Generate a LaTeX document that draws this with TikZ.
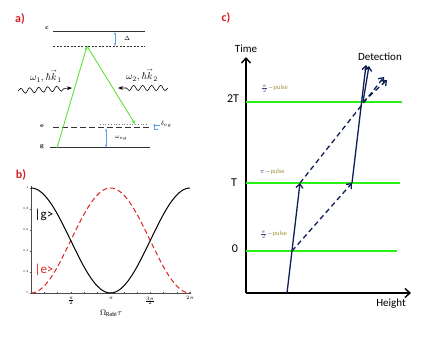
\documentclass[tikz,border=0pt]{standalone}
\usepackage{amsmath}
\usepackage{fontspec}
\setsansfont{Carlito}
\usepackage{tikz}
\usetikzlibrary{arrows.meta, positioning, calc, decorations.pathmorphing}
\definecolor{panelred}{RGB}{215,30,35}
\definecolor{lasergreen}{RGB}{80,225,40}
\definecolor{pulsegreen}{RGB}{40,240,20}
\definecolor{levelblue}{RGB}{90,160,230}
\definecolor{pathnavy}{RGB}{15,30,85}
\definecolor{curvered}{RGB}{220,35,35}
\definecolor{pulsetxt}{RGB}{165,145,60}
\definecolor{pitxt}{RGB}{90,60,120}
\newcommand{\hb}{\text{\itshape ħ}}
\newcommand{\kvec}{\overset{\scriptscriptstyle\rightarrow}{k}}
\tikzset{
  panel/.style={font=\sffamily\bfseries\fontsize{12}{14}\selectfont, text=panelred},
  level/.style={line width=1pt, color=black!80},
  lvllabel/.style={font=\bfseries\fontsize{6}{7}\selectfont},
  split/.style={{Stealth[length=3pt]}-{Stealth[length=3pt]}, color=levelblue, line width=0.7pt},
  beam/.style={-{Stealth[length=4pt]}, color=lasergreen, line width=0.8pt},
  photon/.style={-{Stealth[length=5pt]}, decorate,
    decoration={snake, amplitude=2.6pt, segment length=9pt, post length=5pt}, line width=0.6pt},
  photonlbl/.style={font=\fontsize{10}{12}\selectfont, inner sep=0.5pt},
  pulse/.style={color=pulsegreen, line width=1.3pt},
  traj/.style={-{Straight Barb[length=4pt, width=7pt]}, color=pathnavy, line width=1.3pt},
  dtraj/.style={traj, dash pattern=on 5pt off 3.5pt},
  axis/.style={-{Straight Barb[length=5pt, width=9pt]}, line width=1.4pt},
  ctext/.style={font=\sffamily\fontsize{11}{13}\selectfont},
  pulselbl/.style={font=\fontsize{6.5}{7}\selectfont, text=pitxt, inner sep=0pt}
}

\begin{document}
\begin{tikzpicture}[x=1pt, y=-1pt]
  \useasboundingbox (0,0) rectangle (436,339);

  % a) Raman transition
  \node[panel] (pa) at (20,19) {a)};
  \coordinate (cL) at (53,32);  \coordinate (cR) at (145,32);
  \coordinate (vL) at (53,46);  \coordinate (vR) at (145,46);
  \coordinate (eL) at (53,128); \coordinate (eR) at (150,128);
  \coordinate (gL) at (50,148); \coordinate (gR) at (150,148);
  \draw[level] (cL) -- (cR);
  \draw[black!80, dashed, dash pattern=on 2pt off 1.5pt, line width=0.7pt] (vL) -- (vR);
  \draw[level, dash pattern=on 6pt off 3pt] (eL) -- (eR);
  \draw[black!50, dotted, line width=0.7pt] (100,124) -- (148,124);
  \draw[level] (gL) -- (gR);
  \node[lvllabel] (lc) at (47,28) {c};
  \node[lvllabel] (le) at (42,126) {e};
  \node[lvllabel] (lg) at (42,147) {g};
  % detunings
  \draw[split] (115,32) -- (115,46);
  \node[font=\fontsize{6}{7}\selectfont] (ldelta) at (127,38) {$\Delta$};
  \draw[split] (106,128.5) -- (106,147.5);
  \node[font=\fontsize{6}{7}\selectfont] (lweg) at (121,138) {$\omega_{eg}$};
  \draw[levelblue, line width=0.7pt, -{Stealth[length=2.5pt]}] (160,125) -- (153,125);
  \draw[levelblue, line width=0.7pt] (154.5,125) -- (154.5,129.5) -- (158,129.5);
  \node[font=\fontsize{6}{7}\selectfont] (ldeg) at (166,124) {$\delta_{eg}$};
  % laser beams
  \coordinate (gs) at (57,148);
  \coordinate (apex) at (87,46);
  \coordinate (es) at (135,124);
  \draw[beam] (gs) -- (apex);
  \draw[beam] (apex) -- (es);
  \draw[photon] (18,91) -- (72,88);
  \draw[photon] (168,88) -- (118,88);
  \node[photonlbl] (k1) at (46,76) {$\omega_1,\hb\kvec_1$};
  \node[photonlbl] (k2) at (142,75) {$\omega_2,\hb\kvec_2$};

  % b) Rabi oscillations
  \node[panel] (pb) at (21,175) {b)};
  \draw[black!70, line width=0.5pt] (31,186) -- (31,293) -- (191,293);
  \foreach \v/\lbl in {0/0, 0.2/0.2, 0.4/0.4, 0.6/0.6, 0.8/0.8, 1/1} {
    \draw[black!70, line width=0.4pt] (29.5,{293-105*\v}) -- (31,{293-105*\v});
    \node[font=\fontsize{3}{4}\selectfont, left=1pt, inner sep=0pt] at (29.5,{293-105*\v}) {\lbl};
  }
  \foreach \k in {1,...,12} {
    \draw[black!70, line width=0.4pt] ({31+159*\k/12},293) -- ({31+159*\k/12},291.5);
  }
  \draw[curvered, line width=1pt, dash pattern=on 5pt off 3pt, domain=0:1, samples=90, variable=\s]
    plot ({31+159*\s}, {293-105*sin(180*\s)*sin(180*\s)});
  \draw[black, line width=1pt, domain=0:1, samples=90, variable=\s]
    plot ({31+159*\s}, {293-105*cos(180*\s)*cos(180*\s)});
  \node[font=\fontsize{4}{5}\selectfont] (t1) at (71,301) {$\frac{\pi}{2}$};
  \node[font=\fontsize{4}{5}\selectfont] (t2) at (111,298) {$\pi$};
  \node[font=\fontsize{4}{5}\selectfont] (t3) at (150,301) {$\frac{3\pi}{2}$};
  \node[font=\fontsize{4}{5}\selectfont] (t4) at (190,298) {$2\pi$};
  \node[font=\sffamily\fontsize{8}{9}\selectfont] (xl) at (111,313) {$\Omega_{\text{Rabi}}\tau$};
  \node[font=\sffamily\fontsize{13}{15}\selectfont] (kg) at (44,215) {|g>};
  \node[font=\sffamily\fontsize{13}{15}\selectfont, text=curvered] (ke) at (44,270) {|e>};

  % c) Mach-Zehnder atom interferometer
  \node[panel] (pc) at (226,18) {c)};
  \coordinate (O) at (246,293);
  \coordinate (ttop) at (246,57);
  \coordinate (hend) at (411,293);
  \draw[axis] (O) -- (ttop);
  \draw[axis] (O) -- (hend);
  \node[ctext, above=1pt] (ltime) at (ttop) {Time};
  \node[ctext] (lheight) at (391,304) {Height};
  \node[ctext] (ldet) at (380,57) {Detection};
  % pulses
  \draw[pulse] (246,102) -- (402,102);
  \draw[pulse] (246,183) -- (400,183);
  \draw[pulse] (246,251) -- (397,251);
  \node[font=\sffamily\fontsize{12}{14}\selectfont] (l2T) at (233,99) {2T};
  \node[font=\sffamily\fontsize{12}{14}\selectfont] (lT) at (234,183) {T};
  \node[font=\sffamily\fontsize{12}{14}\selectfont] (l0) at (235,249) {0};
  \node[pulselbl, anchor=west] (p1) at (261,89) {$\frac{\pi}{2}-$\textcolor{pulsetxt}{\sffamily pulse}};
  \node[pulselbl, anchor=west] (p2) at (260,172) {$\pi-$\textcolor{pulsetxt}{\sffamily pulse}};
  \node[pulselbl, anchor=west] (p3) at (260,235) {$\frac{\pi}{2}-$\textcolor{pulsetxt}{\sffamily pulse}};
  % trajectories
  \coordinate (start) at (287,293);
  \coordinate (split1) at (292,251);
  \coordinate (upA) at (300,183);
  \coordinate (upB) at (352,183);
  \coordinate (join) at (363,102);
  \coordinate (outA) at (366,65);
  \coordinate (outA2) at (369,66);
  \coordinate (outB) at (384,77);
  \coordinate (outB2) at (387,80);
  \draw[traj] (start) -- (upA);
  \draw[dtraj] (split1) -- (upB);
  \draw[traj] (upB) -- (outA);
  \draw[traj] (join) -- (outA2);
  \draw[dtraj] (upA) -- (outB);
  \draw[dtraj] (join) -- (outB2);
\end{tikzpicture}
\end{document}
